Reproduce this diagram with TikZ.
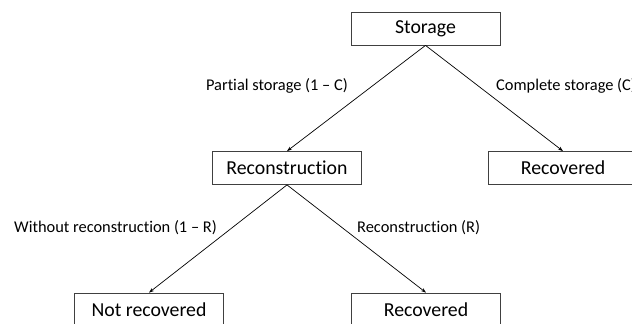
\documentclass[tikz,border=0pt]{standalone}
\usepackage{fontspec}
\setmainfont{Carlito}[Ligatures=NoCommon]
\usetikzlibrary{arrows.meta}
\begin{document}
\begin{tikzpicture}[x=1pt,y=-1pt,
  box/.style={draw=black!75,line width=0.8pt,minimum width=149pt,minimum height=33pt,inner sep=0pt,font=\fontsize{19.8}{22}\selectfont},
  lbl/.style={font=\fontsize{16.4}{18}\selectfont,inner sep=0pt},
  conn/.style={line width=0.7pt,-{Stealth[length=5pt,width=3.5pt]}}]
\useasboundingbox (0,0) rectangle (632,324);
\clip (0,0) rectangle (632,324);
\node[box] (st) at (425.5,28.5) {Storage};
\node[box] (rc) at (287,168) {Reconstruction};
\node[box] (rv1) at (563,168) {Recovered};
\node[box] (nr) at (149,309.5) {Not recovered};
\node[box] (rv2) at (426,309.5) {Recovered};
\draw[conn] (st.south) -- (rc.north);
\draw[conn] (st.south) -- (rv1.north);
\draw[conn] (rc.south) -- (nr.north);
\draw[conn] (rc.south) -- (rv2.north);
\node[lbl,anchor=east] (l1) at (348,86) {Partial storage (1 – C)};
\node[lbl,anchor=west] (l2) at (496,86) {Complete storage (C)};
\node[lbl,anchor=east] (l3) at (217,228) {Without reconstruction (1 – R)};
\node[lbl,anchor=west] (l4) at (357,228) {Reconstruction (R)};
\end{tikzpicture}
\end{document}
